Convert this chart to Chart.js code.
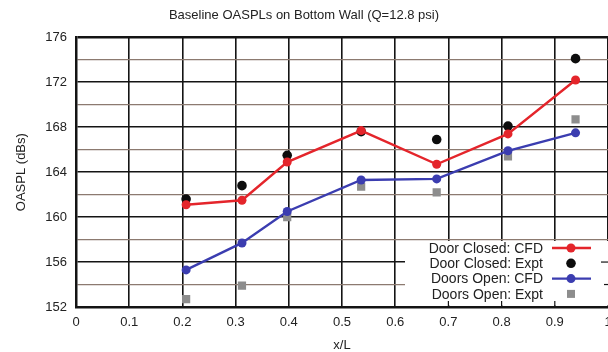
<!DOCTYPE html>
<html>
<head>
<meta charset="utf-8">
<script src="https://cdn.jsdelivr.net/npm/chart.js@4"></script>
<style>
  body { margin: 0; background: #fff; }
  #clip { width: 608px; height: 352px; overflow: hidden; }
  #box { width: 683px; height: 352px; }
</style>
</head>
<body>
<div id="clip"><div id="box"><canvas id="oaspl"></canvas></div></div>
<script>
// x/L positions of the sensors along the bottom wall
const xLoc = [0.207, 0.312, 0.397, 0.536, 0.678, 0.812, 0.939];

const closedCfd = [161.1, 161.5, 164.9, 167.7, 164.7, 167.4, 172.2];
const closedExpt = [161.6, 162.8, 165.5, 167.6, 166.9, 168.1, 174.1];
const openCfd = [155.3, 157.7, 160.5, 163.3, 163.4, 165.9, 167.5];
const openExpt = [152.7, 153.9, 160.0, 162.7, 162.2, 165.4, 168.7];

const seriesNames = ['Door Closed: CFD', 'Door Closed: Expt', 'Doors Open: CFD', 'Doors Open: Expt'];
const yMin = 152, yMax = 176, yStep = 2, yLabelStep = 4;
const xMin = 0, xMax = 1, xStep = 0.1;

const FONT = '"Liberation Sans", Arial, sans-serif';
const RED = '#e4252b';
const BLUE = '#3b3db0';
const GREY = '#8d8d8d';
const INK = '#141414';
const MINOR = '#8c7a70';

function pts(ys) {
    return ys.map((y, i) => ({ x: xLoc[i], y: y }));
}

// legend drawn inside the plot, text on the left, sample on the right
const insideLegend = {
    id: 'insideLegend',
    afterDatasetsDraw(chart) {
        const ctx = chart.ctx;
        const area = chart.chartArea;
        const xs = chart.scales.x;
        const ys = chart.scales.y;
        const left = area.right - 203;
        const top = area.bottom - 66;

        ctx.save();
        ctx.fillStyle = '#fff';
        ctx.fillRect(left, top, area.right - left, area.bottom - 1.5 - top);

        // little inward tics that show through the legend box
        ctx.strokeStyle = INK;
        ctx.lineWidth = 1.2;
        xs.ticks.forEach(t => {
            const px = xs.getPixelForValue(t.value);
            if (px > left && px < area.right - 2) {
                ctx.beginPath();
                ctx.moveTo(px, area.bottom);
                ctx.lineTo(px, area.bottom - 6);
                ctx.stroke();
            }
        });
        ys.ticks.forEach(t => {
            const py = ys.getPixelForValue(t.value);
            if (py > top && py < area.bottom - 2) {
                const len = t.value % yLabelStep === 0 ? 7 : 4;
                ctx.beginPath();
                ctx.moveTo(area.right, py);
                ctx.lineTo(area.right - len, py);
                ctx.stroke();
            }
        });

        const rowH = 15.3;
        const textRight = area.right - 65;
        const lineL = area.right - 56;
        const lineR = area.right - 17;
        const mark = area.right - 37;
        ctx.font = '14px ' + FONT;
        ctx.textAlign = 'right';
        ctx.textBaseline = 'middle';

        chart.data.datasets.forEach((ds, i) => {
            const cy = top + 7 + rowH * i;
            ctx.fillStyle = '#222';
            ctx.fillText(ds.label, textRight, cy + 1);
            if (ds.showLine !== false) {
                ctx.strokeStyle = ds.borderColor;
                ctx.lineWidth = 2.4;
                ctx.beginPath();
                ctx.moveTo(lineL, cy);
                ctx.lineTo(lineR, cy);
                ctx.stroke();
            }
            ctx.fillStyle = ds.pointBackgroundColor;
            if (ds.pointStyle === 'rect') {
                ctx.fillRect(mark - 4, cy - 4, 8, 8);
            } else {
                ctx.beginPath();
                ctx.arc(mark, cy, ds.pointRadius, 0, Math.PI * 2);
                ctx.fill();
            }
        });
        ctx.restore();
    }
};

new Chart(document.getElementById('oaspl'), {
    type: 'line',
    data: {
        datasets: [{
            label: seriesNames[0],
            data: pts(closedCfd),
            borderColor: RED,
            backgroundColor: RED,
            pointBackgroundColor: RED,
            pointBorderWidth: 0,
            pointRadius: 4.5,
            borderWidth: 2.4
        }, {
            label: seriesNames[1],
            data: pts(closedExpt),
            showLine: false,
            borderColor: INK,
            pointBackgroundColor: '#0d0d0d',
            pointBorderWidth: 0,
            pointStyle: 'circle',
            pointRadius: 4.8
        }, {
            label: seriesNames[2],
            data: pts(openCfd),
            borderColor: BLUE,
            backgroundColor: BLUE,
            pointBackgroundColor: BLUE,
            pointBorderWidth: 0,
            pointRadius: 4.5,
            borderWidth: 2.4
        }, {
            label: seriesNames[3],
            data: pts(openExpt),
            showLine: false,
            borderColor: GREY,
            pointBackgroundColor: GREY,
            pointBorderWidth: 0,
            pointStyle: 'rect',
            pointRadius: 5.8
        }]
    },
    options: {
        responsive: true,
        maintainAspectRatio: false,
        animation: false,
        layout: {
            padding: { left: 0, right: 75, top: 0, bottom: 0 }
        },
        plugins: {
            legend: { display: false },
            tooltip: { enabled: false },
            title: {
                display: true,
                text: 'Baseline OASPLs on Bottom Wall (Q=12.8 psi)',
                color: '#222',
                font: { family: FONT, size: 13, weight: 'normal', lineHeight: 1.2 },
                padding: { top: 8, bottom: 13.7 }
            }
        },
        scales: {
            x: {
                type: 'linear',
                min: xMin,
                max: xMax,
                afterFit: function(scale) { scale.height = 45; },
                ticks: {
                    stepSize: xStep,
                    color: '#222',
                    padding: 8,
                    maxRotation: 0,
                    font: { family: FONT, size: 13 },
                    callback: function(v) { return String(+v.toFixed(1)); }
                },
                grid: {
                    drawTicks: false,
                    color: INK,
                    lineWidth: function(c) { return c.tick && c.tick.value === xMax ? 2.5 : 1.6; }
                },
                border: { display: true, color: INK, width: 2.5 },
                title: {
                    display: true,
                    text: 'x/L',
                    color: '#222',
                    font: { family: FONT, size: 13, lineHeight: 1 },
                    padding: { top: 0, bottom: 0 }
                }
            },
            y: {
                min: yMin,
                max: yMax,
                afterFit: function(scale) { scale.width = 76; },
                ticks: {
                    stepSize: yStep,
                    color: '#222',
                    padding: 9,
                    font: { family: FONT, size: 13 },
                    callback: function(v) {
                        if (v % yLabelStep === 0) {
                            return v;
                        } else {
                            return '';
                        }
                    }
                },
                grid: {
                    drawTicks: false,
                    color: function(c) {
                        if (!c.tick) return INK;
                        return c.tick.value % yLabelStep === 0 ? INK : MINOR;
                    },
                    lineWidth: function(c) {
                        if (!c.tick) return 1.6;
                        if (c.tick.value === yMax) return 2.5;
                        return c.tick.value % yLabelStep === 0 ? 1.6 : 1.3;
                    }
                },
                border: { display: true, color: INK, width: 2.5 },
                title: {
                    display: true,
                    text: 'OASPL (dBs)',
                    color: '#222',
                    font: { family: FONT, size: 13, lineHeight: 1.2 },
                    padding: { top: 14, bottom: 0 }
                }
            }
        }
    },
    plugins: [insideLegend]
});
</script>
</body>
</html>
